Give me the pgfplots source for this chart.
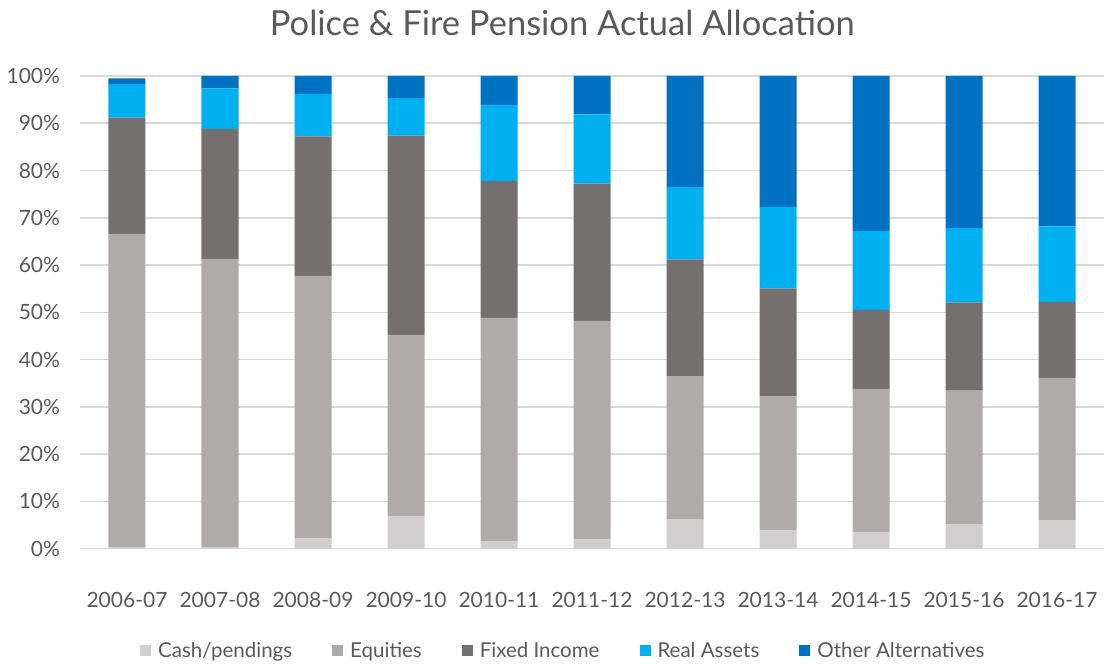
\documentclass[border=0pt]{standalone}
\usepackage{pgfplots}
\pgfplotsset{compat=1.18}
\usepackage{pgfplotstable}
\usepackage{fontspec}
\setmainfont{Lato}
\definecolor{cash}{HTML}{D0CECE}
\definecolor{equ}{HTML}{AFABAB}
\definecolor{fixed}{HTML}{757070}
\definecolor{real}{HTML}{00B0F0}
\definecolor{other}{HTML}{0070C0}
\definecolor{txt}{HTML}{595959}
\definecolor{grd}{HTML}{D9D9D9}
\pgfplotstableread{
x cash equ fixed real other
0 0.3 66.3 24.6 7.1 1.2
1 0.3 61.0 27.5 8.6 2.6
2 2.2 55.5 29.5 9.0 3.8
3 6.9 38.3 42.2 7.9 4.7
4 1.6 47.2 29.0 16.1 6.1
5 2.0 46.2 29.0 14.7 8.1
6 6.2 30.3 24.7 15.3 23.5
7 3.9 28.3 22.8 17.3 27.7
8 3.5 30.3 16.7 16.7 32.8
9 5.2 28.2 18.7 15.7 32.2
10 6.0 30.1 16.1 16.0 31.8
}\data
\begin{document}
\begin{tikzpicture}
\begin{axis}[
  name=ax,
  scale only axis,
  width=1023pt, height=472.5pt,
  ybar stacked, bar width=37pt,
  xmin=-0.5, xmax=10.5, ymin=0, ymax=100,
  xtick=data,
  xticklabels={2006-07,2007-08,2008-09,2009-10,2010-11,2011-12,2012-13,2013-14,2014-15,2015-16,2016-17},
  ytick={0,10,...,100},
  yticklabel={\pgfmathprintnumber{\tick}\%},
  /pgf/number format/assume math mode=true,
  major tick length=0pt,
  axis line style={draw=none},
  ymajorgrids, grid style={grd, line width=1.5pt},
  tick label style={font=\fontsize{21}{24}\selectfont, text=txt},
  xticklabel style={yshift=-40pt},
  yticklabel style={xshift=-17pt},
  title={Police \& Fire Pension Actual Allocation},
  title style={font=\fontsize{34.5}{40}\selectfont, text=txt, at={(0.471,1)}, anchor=south, yshift=31pt},
  legend style={at={(0.472,-0.19)}, anchor=north, draw=none, legend columns=5,
    font=\fontsize{20.5}{24}\selectfont, text=txt,
    /tikz/every odd column/.append style={column sep=5pt},
    /tikz/every even column/.append style={column sep=38pt}},
  legend image code/.code={\fill[#1] (0pt,-5pt) rectangle (11pt,6pt);},
  every axis plot/.append style={draw=none},
]
\addplot[fill=cash] table[x=x,y=cash]{\data};
\addplot[fill=equ] table[x=x,y=equ]{\data};
\addplot[fill=fixed] table[x=x,y=fixed]{\data};
\addplot[fill=real] table[x=x,y=real]{\data};
\addplot[fill=other] table[x=x,y=other]{\data};
\legend{Cash/pendings,Equities,Fixed Income,Real Assets,Other Alternatives}
\end{axis}
\pgfresetboundingbox
\path[use as bounding box] ([shift={(-80.5pt,-115.5pt)}]ax.south west) rectangle ([shift={(3.5pt,76pt)}]ax.north east);
\end{tikzpicture}
\end{document}
